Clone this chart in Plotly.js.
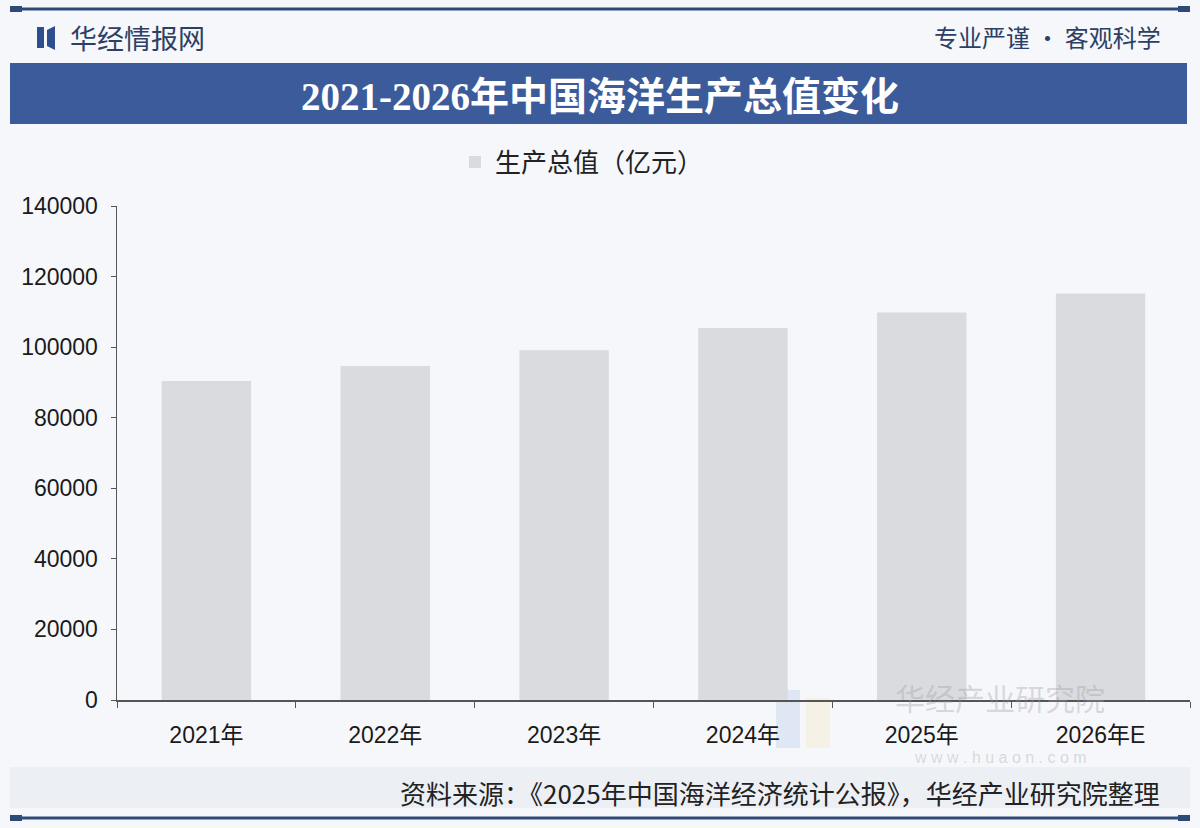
<!DOCTYPE html>
<html>
<head>
<meta charset="utf-8">
<script src="https://cdn.plot.ly/plotly-3.0.1.min.js"></script>
<style>
html,body{margin:0;padding:0;background:#f6f7fa;}
#chart{width:1200px;height:828px;}
</style>
</head>
<body>
<div id="chart"></div>
<script>
// ---- data ----
var categories = ["2021年", "2022年", "2023年", "2024年", "2025年", "2026年E"];
var values = [90385, 94628, 99097, 105438, 109800, 115200];
var seriesName = "生产总值（亿元）";
var yTickVals = [0, 20000, 40000, 60000, 80000, 100000, 120000, 140000];
var yTickText = ["0", "20000", "40000", "60000", "80000", "100000", "120000", "140000"];
var titleText = "2021-2026年中国海洋生产总值变化";
var sourceText = "资料来源：《2025年中国海洋经济统计公报》，华经产业研究院整理";

// ---- layout helpers (pixel -> paper) ----
var W = 1200, H = 828;
var L = 117, R = 10, T = 206, B = 128;
var pw = W - L - R, ph = H - T - B;
function px(x){ return (x - L) / pw; }
function py(y){ return (H - B - y) / ph; }

var CJK = "'Noto Sans CJK SC', 'Liberation Sans', sans-serif";
var NUM = "'Liberation Sans', 'Noto Sans CJK SC', sans-serif";

var trace = {
  type: "bar",
  x: categories,
  y: values,
  name: seriesName,
  marker: {color: "#dadbde", line: {width: 0}},
  showlegend: true,
  hoverinfo: "x+y"
};

var shapes = [
  // top line
  {type:"line", xref:"paper", yref:"paper", x0:px(10), x1:px(1190), y0:py(9), y1:py(9), line:{color:"#2f4a78", width:3}},
  {type:"rect", xref:"paper", yref:"paper", x0:px(10), x1:px(22), y0:py(6), y1:py(12), fillcolor:"#2f4a78", line:{width:0}},
  {type:"rect", xref:"paper", yref:"paper", x0:px(1178), x1:px(1190), y0:py(6), y1:py(12), fillcolor:"#2f4a78", line:{width:0}},
  // title banner
  {type:"rect", xref:"paper", yref:"paper", x0:px(10), x1:px(1187), y0:py(63), y1:py(124), fillcolor:"#3c5b9b", line:{width:0}, layer:"below"},
  // logo
  {type:"rect", xref:"paper", yref:"paper", x0:px(37), x1:px(44), y0:py(27), y1:py(48), fillcolor:"#2d4f8e", line:{width:0}},
  {type:"path", xref:"paper", yref:"paper", path:"M "+px(47)+","+py(30)+" L "+px(55)+","+py(26)+" L "+px(55)+","+py(50)+" L "+px(47)+","+py(46)+" Z", fillcolor:"#2d4f8e", line:{width:0}},
  // footer band
  {type:"rect", xref:"paper", yref:"paper", x0:px(10), x1:px(1190), y0:py(767), y1:py(808), fillcolor:"#eceff4", line:{width:0}, layer:"below"},
  // bottom line
  {type:"line", xref:"paper", yref:"paper", x0:px(10), x1:px(1190), y0:py(818), y1:py(818), line:{color:"#2f4a78", width:3}},
  {type:"rect", xref:"paper", yref:"paper", x0:px(10), x1:px(22), y0:py(815), y1:py(821), fillcolor:"#2f4a78", line:{width:0}},
  {type:"rect", xref:"paper", yref:"paper", x0:px(1178), x1:px(1190), y0:py(815), y1:py(821), fillcolor:"#2f4a78", line:{width:0}},
  // faint watermark logo
  {type:"rect", xref:"paper", yref:"paper", x0:px(776), x1:px(800), y0:py(690), y1:py(748), fillcolor:"rgba(120,160,220,0.18)", line:{width:0}, layer:"below"},
  {type:"rect", xref:"paper", yref:"paper", x0:px(806), x1:px(830), y0:py(698), y1:py(748), fillcolor:"rgba(240,210,120,0.16)", line:{width:0}, layer:"below"}
];

var annotations = [
  {xref:"paper", yref:"paper", x:px(68), y:py(37), xanchor:"left", yanchor:"middle", text:"华经情报网", showarrow:false, font:{family:CJK, size:27, color:"#2c3f66"}},
  {xref:"paper", yref:"paper", x:px(1163), y:py(36), xanchor:"right", yanchor:"middle", text:"专业严谨 • 客观科学", showarrow:false, font:{family:CJK, size:24, color:"#2c3f66"}},
  {xref:"paper", yref:"paper", x:px(600), y:py(96), xanchor:"center", yanchor:"middle", text:"<b>"+titleText+"</b>", showarrow:false, font:{family:"'Liberation Serif', 'Noto Sans CJK SC', serif", size:39, color:"#ffffff"}},
  {xref:"paper", yref:"paper", x:px(1162), y:py(792), xanchor:"right", yanchor:"middle", text:sourceText, showarrow:false, font:{family:CJK, size:26, color:"#222222"}},
  // watermark
  {xref:"paper", yref:"paper", x:px(1000), y:py(697), xanchor:"center", yanchor:"middle", text:"华经产业研究院", showarrow:false, font:{family:CJK, size:30, color:"rgba(150,155,165,0.35)"}},
  {xref:"paper", yref:"paper", x:px(1000), y:py(757), xanchor:"center", yanchor:"middle", text:"w w w . h u a o n . c o m", showarrow:false, font:{family:NUM, size:16, color:"rgba(150,155,165,0.35)"}}
];

var layout = {
  width: W, height: H,
  margin: {l:L, r:R, t:T, b:B, pad:0},
  paper_bgcolor: "#f6f7fa",
  plot_bgcolor: "rgba(0,0,0,0)",
  bargap: 0.5,
  showlegend: true,
  legend: {
    orientation: "h",
    x: px(455), xanchor: "left",
    y: py(162), yanchor: "middle",
    font: {family: CJK, size: 26, color: "#222222"},
    bgcolor: "rgba(0,0,0,0)",
    itemwidth: 30
  },
  xaxis: {
    type: "category",
    showline: true, linecolor: "#555555", linewidth: 1.5,
    ticks: "outside", tickson: "boundaries", ticklen: 6, tickcolor: "#555555",
    tickfont: {family: NUM, size: 23, color: "#1a1a1a"},
    ticklabelstandoff: 14,
    showgrid: false, zeroline: false,
    range: [-0.5, 5.5]
  },
  yaxis: {
    range: [0, 140000],
    tickvals: yTickVals, ticktext: yTickText,
    showline: true, linecolor: "#555555", linewidth: 1.5,
    ticks: "outside", ticklen: 5, tickcolor: "#555555",
    tickfont: {family: NUM, size: 23, color: "#1a1a1a"},
    showgrid: false, zeroline: false,
    ticklabelstandoff: 8
  },
  shapes: shapes,
  annotations: annotations
};

Plotly.newPlot("chart", [trace], layout, {displayModeBar: false, staticPlot: true});
</script>
</body>
</html>
